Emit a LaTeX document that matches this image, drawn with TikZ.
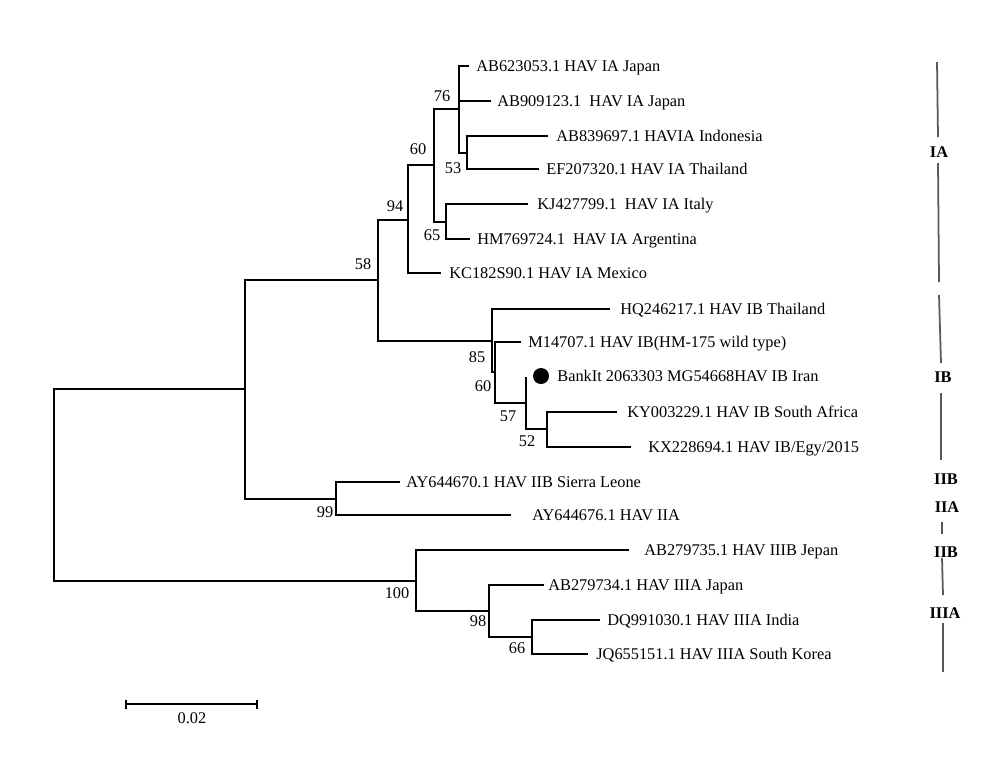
\documentclass[tikz,border=0pt]{standalone}
\usepackage{fontspec}
\setmainfont{Liberation Serif}

\tikzset{
	branch/.style={line width=0.8pt, line cap=rect},
	leaf/.style={anchor=west, inner sep=0pt, text height=6.2pt, text depth=0pt, font=\fontsize{9.3}{11}\selectfont},
	boot/.style={inner sep=0pt, text height=6.2pt, text depth=0pt, font=\fontsize{9.3}{11}\selectfont},
	clade/.style={inner sep=0pt, text height=6.2pt, text depth=0pt, font=\fontsize{9.3}{11}\selectfont\bfseries},
	cladebar/.style={line width=1pt, draw=black!65},
	dot/.style={circle, fill=black, inner sep=0pt, minimum size=0.32cm},
}

\begin{document}
\begin{tikzpicture}[x=0.02cm, y=-0.02cm]
		\useasboundingbox (0,0) rectangle (1000,765);
		
		% internal nodes
		\coordinate (root) at (54,485);
		\coordinate (nII) at (245,389);
		\coordinate (n58) at (378,280);
		\coordinate (n94) at (408,220);
		\coordinate (n60a) at (434,165);
		\coordinate (n76) at (459,109);
		\coordinate (n53) at (467,153);
		\coordinate (n65) at (446,222);
		\coordinate (n85) at (492,341);
		\coordinate (n60b) at (495,372);
		\coordinate (n57) at (526,403);
		\coordinate (n52) at (547,429);
		\coordinate (n99) at (336,499);
		\coordinate (n100) at (416,581);
		\coordinate (n98) at (489,611);
		\coordinate (n66) at (532,637);
		
		% leaf tips
		\coordinate (tAB623053) at (468,66);
		\coordinate (tAB909123) at (490,101);
		\coordinate (tAB839697) at (547,136);
		\coordinate (tEF207320) at (538,169);
		\coordinate (tKJ427799) at (527,204);
		\coordinate (tHM769724) at (469,239);
		\coordinate (tKC182S90) at (440,273);
		\coordinate (tHQ246217) at (609,309);
		\coordinate (tM14707) at (520,342);
		\coordinate (tBankIt) at (526,378);
		\coordinate (tKY003229) at (616,412);
		\coordinate (tKX228694) at (630,447);
		\coordinate (tAY644670) at (399,482);
		\coordinate (tAY644676) at (510,515);
		\coordinate (tAB279735) at (628,550);
		\coordinate (tAB279734) at (543,585);
		\coordinate (tDQ991030) at (599,620);
		\coordinate (tJQ655151) at (587,654);
		
		% branches
		\draw[branch] (root) |- (nII);
		\draw[branch] (root) |- (n100);
		\draw[branch] (nII) |- (n58);
		\draw[branch] (nII) |- (n99);
		\draw[branch] (n58) |- (n94);
		\draw[branch] (n58) |- (n85);
		\draw[branch] (n94) |- (n60a);
		\draw[branch] (n94) |- (tKC182S90);
		\draw[branch] (n60a) |- (n76);
		\draw[branch] (n60a) |- (n65);
		\draw[branch] (n76) |- (tAB623053);
		\draw[branch] (n76) |- (tAB909123);
		\draw[branch] (n76) |- (n53);
		\draw[branch] (n53) |- (tAB839697);
		\draw[branch] (n53) |- (tEF207320);
		\draw[branch] (n65) |- (tKJ427799);
		\draw[branch] (n65) |- (tHM769724);
		\draw[branch] (n85) |- (tHQ246217);
		\draw[branch] (n85) |- (n60b);
		\draw[branch] (n60b) |- (tM14707);
		\draw[branch] (n60b) |- (n57);
		\draw[branch] (n57) |- (tBankIt);
		\draw[branch] (n57) |- (n52);
		\draw[branch] (n52) |- (tKY003229);
		\draw[branch] (n52) |- (tKX228694);
		\draw[branch] (n99) |- (tAY644670);
		\draw[branch] (n99) |- (tAY644676);
		\draw[branch] (n100) |- (tAB279735);
		\draw[branch] (n100) |- (n98);
		\draw[branch] (n98) |- (tAB279734);
		\draw[branch] (n98) |- (n66);
		\draw[branch] (n66) |- (tDQ991030);
		\draw[branch] (n66) |- (tJQ655151);
		
		% taxa
		\node[leaf] (lAB623053) at (476,66) {AB623053.1 HAV IA Japan};
		\node[leaf] (lAB909123) at (497,101) {AB909123.1\ \ HAV IA Japan};
		\node[leaf] (lAB839697) at (556,136) {AB839697.1 HAVIA Indonesia};
		\node[leaf] (lEF207320) at (546,169) {EF207320.1 HAV IA Thailand};
		\node[leaf] (lKJ427799) at (537,204) {KJ427799.1\ \ HAV IA Italy};
		\node[leaf] (lHM769724) at (477,239) {HM769724.1\ \ HAV IA Argentina};
		\node[leaf] (lKC182S90) at (449,273) {KC182S90.1 HAV IA Mexico};
		\node[leaf] (lHQ246217) at (620,309) {HQ246217.1 HAV IB Thailand};
		\node[leaf] (lM14707) at (528,342) {M14707.1 HAV IB(HM-175 wild type)};
		\node[dot] (dBankIt) at (541,376) {};
		\node[leaf] (lBankIt) at (557,376) {BankIt 2063303 MG54668HAV IB Iran};
		\node[leaf] (lKY003229) at (627,412) {KY003229.1 HAV IB South Africa};
		\node[leaf] (lKX228694) at (648,447) {KX228694.1 HAV IB/Egy/2015};
		\node[leaf] (lAY644670) at (406,482) {AY644670.1 HAV IIB Sierra Leone};
		\node[leaf] (lAY644676) at (532,515) {AY644676.1 HAV IIA};
		\node[leaf] (lAB279735) at (644,550) {AB279735.1 HAV IIIB Jepan};
		\node[leaf] (lAB279734) at (548,585) {AB279734.1 HAV IIIA Japan};
		\node[leaf] (lDQ991030) at (607,620) {DQ991030.1 HAV IIIA India};
		\node[leaf] (lJQ655151) at (596,654) {JQ655151.1 HAV IIIA South Korea};
		
		% bootstrap values
		\node[boot] (b58) at (363,264) {58};
		\node[boot] (b94) at (395,206) {94};
		\node[boot] (b60a) at (418,149) {60};
		\node[boot] (b76) at (442,96) {76};
		\node[boot] (b53) at (453,168) {53};
		\node[boot] (b65) at (432,235) {65};
		\node[boot] (b85) at (477,357) {85};
		\node[boot] (b60b) at (483,386) {60};
		\node[boot] (b57) at (508,416) {57};
		\node[boot] (b52) at (527,441) {52};
		\node[boot] (b99) at (325,512) {99};
		\node[boot] (b100) at (397,593) {100};
		\node[boot] (b98) at (478,621) {98};
		\node[boot] (b66) at (517,648) {66};
		
		% genotype bars
		\draw[cladebar] (937,62) -- (938,137);
		\draw[cladebar] (938,163) -- (939,282);
		\draw[cladebar] (939,295) -- (941,363);
		\draw[cladebar] (941,393) -- (941,460);
		\draw[cladebar] (942,522) -- (942,534);
		\draw[cladebar] (942,558) -- (943,595);
		\draw[cladebar] (943,623) -- (943,672);
		\node[clade] (cIA) at (939,152) {IA};
		\node[clade] (cIB) at (943,377) {IB};
		\node[clade] (cIIB) at (946,479) {IIB};
		\node[clade] (cIIA) at (947,507) {IIA};
		\node[clade] (cIIBb) at (946,552) {IIB};
		\node[clade] (cIIIA) at (945,613) {IIIA};
		
		% scale bar
		\coordinate (s0) at (126,704);
		\coordinate (s1) at (257,704);
		\draw[branch, line cap=butt] (s0) -- (s1);
		\draw[branch, line cap=butt] ([yshift=-0.09cm]s0) -- ([yshift=0.09cm]s0);
		\draw[branch, line cap=butt] ([yshift=-0.09cm]s1) -- ([yshift=0.09cm]s1);
		\node[boot] (sLabel) at (192,718) {0.02};
		
		\end{tikzpicture}
\end{document}
